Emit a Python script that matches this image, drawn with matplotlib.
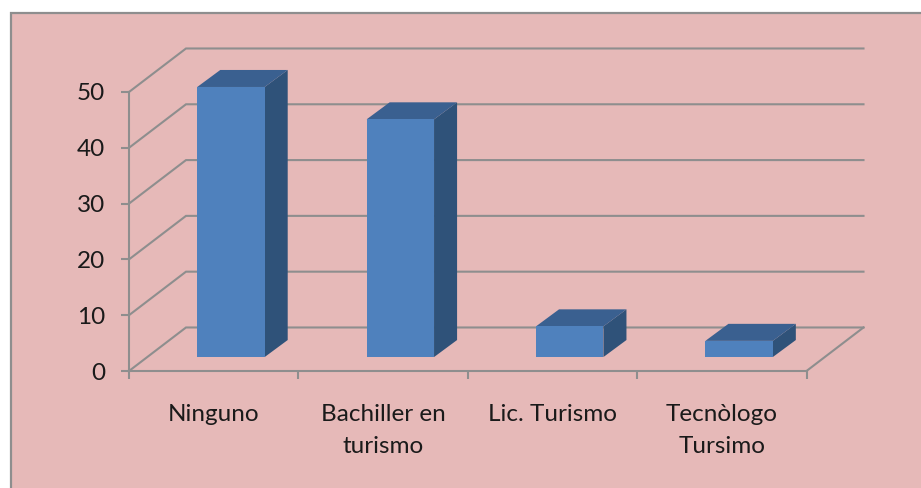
import matplotlib
matplotlib.use('Agg')
import matplotlib.pyplot as plt
from matplotlib.patches import Polygon, Rectangle

categories = ['Ninguno', 'Bachiller en\nturismo', 'Lic. Turismo', 'Tecnòlogo\nTursimo']
values = [48.4, 42.6, 5.5, 2.9]
y_ticks = [0, 10, 20, 30, 40, 50]

# colours
bg = '#E6B9B8'
grey = '#8E8E8E'
front = '#4F81BD'
top = '#3A6090'
side = '#2F5279'

# oblique depth in data units (x = categories, y = value)
wall_dx, wall_dy = 0.3365, 7.8
bar_off_x, bar_off_y = 0.102, 2.5
bar_dx, bar_dy = 0.136, 3.05
bar_w = 0.398

plt.rcParams['font.family'] = ['Lato', 'DejaVu Sans']

fig = plt.figure(figsize=(9.21, 4.88), dpi=100, facecolor='white')
fig.add_artist(Rectangle((10.5 / 921, -0.02), 1.0, 1 - 12.5 / 488 + 0.02, transform=fig.transFigure,
                         facecolor=bg, edgecolor=grey, linewidth=1.6, zorder=-1))

ax = fig.add_axes([129 / 921, (488 - 371) / 488, (806.5 - 129) / 921, 279 / 488])
ax.patch.set_visible(False)
ax.set_xlim(0, len(categories))
ax.set_ylim(0, 50)

# back wall grid lines
for v in y_ticks:
    ax.plot([0, wall_dx, len(categories) + wall_dx], [v, v + wall_dy, v + wall_dy],
            color=grey, lw=1.5, clip_on=False, zorder=1, solid_joinstyle='miter')
ax.plot([len(categories), len(categories) + wall_dx], [0, wall_dy], color=grey, lw=1.5, clip_on=False, zorder=1)

# bars
for i, val in enumerate(values):
    x0 = i + 0.5 - bar_w / 2 + bar_off_x
    x1 = x0 + bar_w
    y0 = bar_off_y
    y1 = y0 + val
    ax.add_patch(Polygon([(x1, y0), (x1 + bar_dx, y0 + bar_dy), (x1 + bar_dx, y1 + bar_dy), (x1, y1)],
                         facecolor=side, edgecolor='none', clip_on=False, zorder=3))
    ax.add_patch(Polygon([(x0, y1), (x0 + bar_dx, y1 + bar_dy), (x1 + bar_dx, y1 + bar_dy), (x1, y1)],
                         facecolor=top, edgecolor='none', clip_on=False, zorder=3))
    ax.add_patch(Rectangle((x0, y0), bar_w, val, facecolor=front, edgecolor='none', clip_on=False, zorder=4))

for s in ['top', 'right']:
    ax.spines[s].set_visible(False)
for s in ['left', 'bottom']:
    ax.spines[s].set_color(grey)
    ax.spines[s].set_linewidth(1.5)

ax.set_yticks(y_ticks)
ax.set_xticks(range(len(categories) + 1))
ax.set_xticklabels([])
ax.set_xticks([i + 0.5 for i in range(len(categories))], minor=True)
ax.set_xticklabels(categories, minor=True, linespacing=1.65)
ax.tick_params(axis='y', length=6, width=1.5, color=grey, labelsize=17.5, labelcolor='#1a1a1a', pad=11)
ax.tick_params(axis='x', which='major', length=6, width=1.5, color=grey)
ax.tick_params(axis='x', which='minor', length=0, labelsize=17.5, labelcolor='#1a1a1a', pad=24)

fig.savefig('out.png', dpi=100)
